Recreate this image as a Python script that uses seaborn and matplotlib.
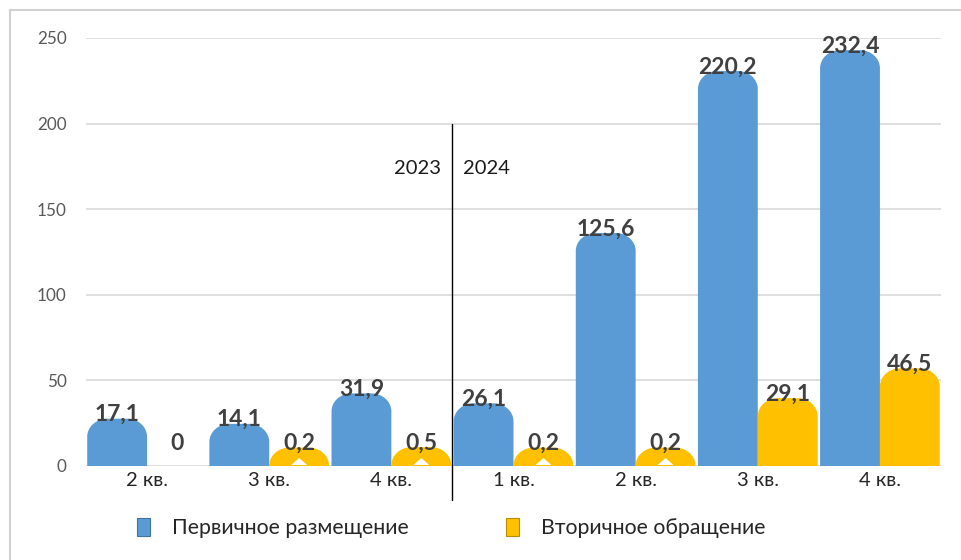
import matplotlib
matplotlib.use("Agg")
import matplotlib.pyplot as plt
import seaborn as sns
import pandas as pd
import numpy as np
from matplotlib.path import Path
from matplotlib.patches import PathPatch, Patch, Polygon
from matplotlib.lines import Line2D

# Data
quarters = ["2 кв.", "3 кв.", "4 кв.", "1 кв.", "2 кв.", "3 кв.", "4 кв."]
years = ["2023", "2023", "2023", "2024", "2024", "2024", "2024"]
primary = [17.1, 14.1, 31.9, 26.1, 125.6, 220.2, 232.4]
secondary = [0.0, 0.2, 0.5, 0.2, 0.2, 29.1, 46.5]
series_names = ["Первичное размещение", "Вторичное обращение"]
colors = ["#5B9BD5", "#FFC000"]
y_ticks = [0, 50, 100, 150, 200, 250]

sns.set_theme(style="white")
plt.rcParams["font.family"] = ["Lato", "DejaVu Sans"]

slots = [f"{y}-{q}" for y, q in zip(years, quarters)]
df = pd.DataFrame({
    "slot": slots * 2,
    "value": primary + secondary,
    "series": [series_names[0]] * len(slots) + [series_names[1]] * len(slots),
})

W, H = 961, 560
fig = plt.figure(figsize=(W / 100, H / 100), dpi=100)
ax_l, ax_r, ax_b, ax_t = 86, 941, 466, 38
ax = fig.add_axes([ax_l / W, (H - ax_b) / H, (ax_r - ax_l) / W, (ax_b - ax_t) / H])

sns.barplot(data=df, x="slot", y="value", hue="series", order=slots,
            hue_order=series_names, palette=colors, width=0.98, gap=0,
            legend=False, ax=ax, saturation=1)

ax.set_xlim(-0.5, len(slots) - 0.5)
ax.set_ylim(0, 250)

# pixel -> data conversion for the rounded caps
px_x = (len(slots)) / (ax_r - ax_l)
px_y = 250 / (ax_b - ax_t)
cap_px = 18
rx = 20 * px_x
ry = cap_px * px_y
k = 0.5523

def rounded_bar(x0, x1, value):
    top = value + ry
    verts = [
        (x0, 0), (x0, top - ry),
        (x0, top - ry + k * ry), (x0 + rx - k * rx, top), (x0 + rx, top),
        (x1 - rx, top),
        (x1 - rx + k * rx, top), (x1, top - ry + k * ry), (x1, top - ry),
        (x1, 0), (x0, 0),
    ]
    codes = [Path.MOVETO, Path.LINETO,
             Path.CURVE4, Path.CURVE4, Path.CURVE4,
             Path.LINETO,
             Path.CURVE4, Path.CURVE4, Path.CURVE4,
             Path.LINETO, Path.CLOSEPOLY]
    return Path(verts, codes)

bars = list(ax.patches)
for bar in bars:
    x0 = bar.get_x()
    w = bar.get_width()
    h = bar.get_height()
    fc = bar.get_facecolor()
    bar.set_visible(False)
    cx = x0 + w / 2
    if h > 0:
        ax.add_patch(PathPatch(rounded_bar(x0, x0 + w, h), facecolor=fc,
                               edgecolor="none", zorder=3))
        if h < 1:
            tri_w, tri_h = 8 * px_x, 7 * px_y
            ax.add_patch(Polygon([(cx - tri_w, 1 * px_y), (cx + tri_w, 1 * px_y),
                                  (cx, 1 * px_y + tri_h)], closed=True,
                                 facecolor="white", edgecolor="none", zorder=4))
    label = f"{h:.1f}".replace(".", ",") if h > 0 else "0"
    ax.annotate(label, (cx, h), xytext=(0, 16), textcoords="offset points",
                ha="center", va="center", fontsize=16.5, fontweight="bold",
                color="#404040", zorder=5, annotation_clip=False)

# axes styling
for s in ax.spines.values():
    s.set_visible(False)
ax.set_yticks(y_ticks)
ax.set_yticklabels([str(t) for t in y_ticks], fontsize=12.3, color="#595959")
ax.yaxis.grid(True, color="#D9D9D9", linewidth=1.2, zorder=0)
ax.set_axisbelow(True)
ax.tick_params(axis="y", length=0, pad=14)
ax.set_xticks(range(len(slots)))
ax.set_xticklabels(quarters, fontsize=14.5, color="#262626")
ax.tick_params(axis="x", length=0, pad=4)
ax.set_xlabel("")
ax.set_ylabel("")

# year separator
sep_x = 2.5
ax.plot([sep_x, sep_x], [200, -20], color="black", linewidth=1, clip_on=False, zorder=6)
ax.text(sep_x - 0.09, 174, "2023", ha="right", va="center", fontsize=14.5, color="#1a1a1a")
ax.text(sep_x + 0.09, 174, "2024", ha="left", va="center", fontsize=14.5, color="#1a1a1a")

# legend
handles = [Patch(facecolor=colors[0], edgecolor="#41719C", linewidth=0.8),
           Patch(facecolor=colors[1], edgecolor="#BC8C00", linewidth=0.8)]
fig.legend(handles, series_names, loc="center left",
           bbox_to_anchor=(137 / W, (H - 528) / H), ncol=2, frameon=False,
           fontsize=15.3, handlelength=0.62, handleheight=0.95,
           handletextpad=1.05, columnspacing=4.55, borderpad=0, borderaxespad=0)

# outer frame (left and top edges)
fig.add_artist(Line2D([10 / W, 10 / W], [0, (H - 10) / H], color="#D0D0D0",
                      linewidth=1.5, transform=fig.transFigure))
fig.add_artist(Line2D([10 / W, 1], [(H - 10) / H, (H - 10) / H], color="#D0D0D0",
                      linewidth=1.5, transform=fig.transFigure))

fig.savefig("out.png", dpi=100, facecolor="white")
